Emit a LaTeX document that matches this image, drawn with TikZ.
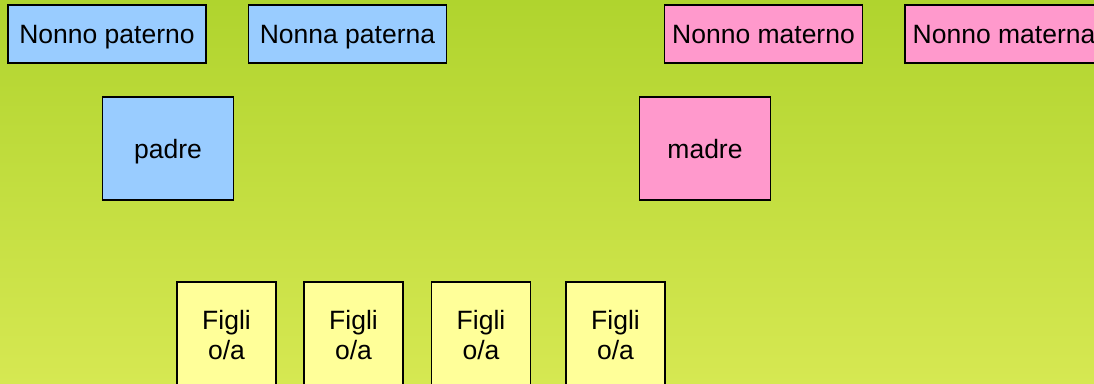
\documentclass[tikz,border=0pt]{standalone}
\usepackage{fontspec}
\setmainfont{Liberation Sans}
\definecolor{bgtop}{RGB}{176,212,46}
\definecolor{bgbot}{RGB}{214,232,82}
\definecolor{pblue}{RGB}{153,204,255}
\definecolor{ppink}{RGB}{255,153,204}
\definecolor{pyellow}{RGB}{255,255,153}
\begin{document}
\begin{tikzpicture}[x=1pt,y=-1pt,
  famrect/.style={draw=black, line width=1.6pt, rectangle, inner sep=0pt, align=center,
    font=\fontsize{26.5}{30}\selectfont},
  grand/.style={famrect, text depth=0pt, minimum width=198pt, minimum height=58pt},
  parent/.style={famrect, text depth=0pt, minimum width=131pt, minimum height=103pt},
  child/.style={famrect, fill=pyellow, minimum width=99pt, minimum height=106pt}]
\useasboundingbox (0,0) rectangle (1094,383);
\clip (0,0) rectangle (1094,383);
\shade[top color=bgtop, bottom color=bgbot] (0,0) rectangle (1094,383);
\node[grand, fill=pblue] (np) at (107,34) {Nonno paterno};
\node[grand, fill=pblue] (nnp) at (347.5,34) {Nonna paterna};
\node[grand, fill=ppink] (nm) at (763.5,34) {Nonno materno};
\node[grand, fill=ppink] (nnm) at (1004,34) {Nonno materna};
\node[parent, fill=pblue] (padre) at (168,148.5) {padre};
\node[parent, fill=ppink] (madre) at (705,148.5) {madre};
\node[child] (f1) at (226.5,335) {Figli\\o/a};
\node[child] (f2) at (353.5,335) {Figli\\o/a};
\node[child] (f3) at (481,335) {Figli\\o/a};
\node[child] (f4) at (615.5,335) {Figli\\o/a};
\end{tikzpicture}
\end{document}
